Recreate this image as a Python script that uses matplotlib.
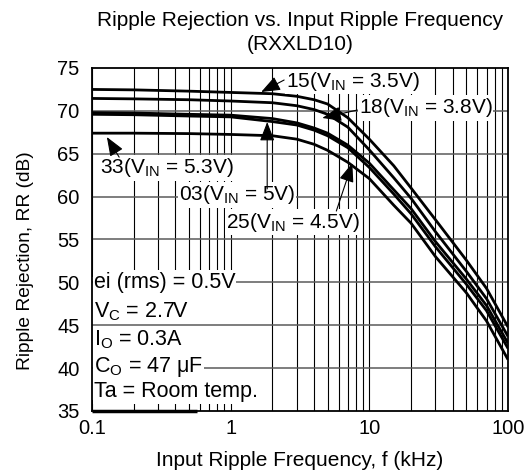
import matplotlib
matplotlib.use("Agg")
import matplotlib.pyplot as plt
from matplotlib.patches import Rectangle

plt.rcParams['font.family'] = ['Liberation Sans', 'DejaVu Sans']
plt.rcParams['mathtext.fontset'] = 'custom'
plt.rcParams['mathtext.rm'] = 'Liberation Sans'
plt.rcParams['mathtext.it'] = 'Liberation Sans:italic'
plt.rcParams['mathtext.bf'] = 'Liberation Sans:bold'

# ---- data ----
freq_khz = [0.1, 0.2, 0.5, 1, 2, 3, 4, 5, 7, 10, 15, 20, 30, 50, 70, 100]
rr_15 = [72.5, 72.45, 72.3, 72.15, 72.0, 71.7, 71.3, 70.8, 69.2, 66.7, 63.6, 61.0, 57.3, 52.6, 49.3, 44.8]
rr_18 = [71.45, 71.4, 71.3, 71.15, 70.95, 70.6, 70.15, 69.6, 68.1, 65.45, 62.2, 59.8, 55.9, 51.3, 48.1, 43.7]
rr_25 = [69.8, 69.75, 69.6, 69.5, 69.1, 68.6, 68.0, 67.4, 66.0, 63.9, 60.8, 58.6, 54.75, 50.4, 47.3, 42.9]
rr_03 = [69.6, 69.55, 69.4, 69.3, 68.75, 68.35, 67.75, 67.1, 65.7, 63.4, 60.3, 58.0, 54.15, 49.8, 46.7, 42.3]
rr_33 = [67.4, 67.4, 67.35, 67.25, 67.1, 66.7, 66.1, 65.4, 64.0, 62.1, 59.0, 56.9, 53.0, 48.8, 45.5, 41.0]

series = [rr_15, rr_18, rr_25, rr_03, rr_33]

x_ticks = [0.1, 1, 10, 100]
x_ticklabels = ['0.1', '1', '10', '100']
y_ticks = [35, 40, 45, 50, 55, 60, 65, 70, 75]

labels = [r'15(V$_{\mathrm{IN}}$ = 3.5V)', r'18(V$_{\mathrm{IN}}$ = 3.8V)',
          r'25(V$_{\mathrm{IN}}$ = 4.5V)', r'03(V$_{\mathrm{IN}}$ = 5V)',
          r'33(V$_{\mathrm{IN}}$ = 5.3V)']
# (text x, text y, arrow start x, y, arrow tip x, y) in data units
label_pos = [
    (7.66, 73.48, 2.43, 73.6, 1.66, 72.2),
    (25.4, 70.34, 8.19, 70.1, 4.58, 69.17),
    (2.83, 57.04, 5.78, 58.32, 7.54, 63.92),
    (1.114, 60.19, 1.834, 60.9, 1.834, 68.7),
    (0.348, 63.34, 0.157, 64.6, 0.128, 66.95),
]

cond_lines = ['ei (rms) = 0.5V', r'V$_{\mathrm{C}}$ = 2.7V', r'I$_{\mathrm{O}}$ = 0.3A',
              r'C$_{\mathrm{O}}$ = 47 $\mathrm{\mu}$F', 'Ta = Room temp.']
cond_y = [50.04, 46.55, 43.28, 40.13, 37.22]

fig = plt.figure(figsize=(5.31, 4.70), dpi=100)
ax = fig.add_axes([92/531, 1-411/470, 416/531, 343/470])
ax.set_xscale('log')
ax.set_xlim(0.1, 100)
ax.set_ylim(35, 75)

ax.set_xticks(x_ticks)
ax.set_xticklabels(x_ticklabels)
ax.set_yticks(y_ticks)
ax.grid(True, which='both', axis='x', color='black', lw=0.8, zorder=1)
ax.set_axisbelow(True)

# white panel behind the condition text (hides vertical grid)
ax.add_patch(Rectangle((0.1, 36.3), 1.28-0.1, 50.6-36.3, facecolor='white',
                       edgecolor='none', zorder=1.5))
# horizontal gridlines over it
ax.hlines(y_ticks[1:-1], 0.1, 100, colors='#5a5a5a', lw=1.1, zorder=1.6)

for s in series:
    ax.plot(freq_khz, s, color='black', lw=2.0, zorder=3, solid_capstyle='butt',
            solid_joinstyle='round')

for lab, (tx, ty, ax0, ay0, ax1, ay1) in zip(labels, label_pos):
    ax.text(tx, ty, lab, ha='center', va='center', fontsize=15, zorder=5,
            bbox=dict(facecolor='white', edgecolor='none', pad=0.8))
    ax.annotate('', xy=(ax1, ay1), xytext=(ax0, ay0), zorder=6,
                arrowprops=dict(arrowstyle='-|>,head_length=0.9,head_width=0.35',
                                mutation_scale=13, color='black', lw=0.8,
                                shrinkA=0, shrinkB=0))

for t, y in zip(cond_lines, cond_y):
    ax.text(0.103, y, t, ha='left', va='center', fontsize=15.5, zorder=5,
            bbox=dict(facecolor='white', edgecolor='none', pad=0.8))

ax.plot([0.1, 0.57], [35, 35], color='black', lw=2.5, zorder=7, clip_on=False,
        solid_capstyle='butt')

for sp in ax.spines.values():
    sp.set_linewidth(1.3)
    sp.set_zorder(8)

ax.tick_params(axis='both', which='both', length=0, labelsize=14.5)
ax.tick_params(axis='y', pad=9)
ax.tick_params(axis='x', pad=6)

ax.set_xlabel('Input Ripple Frequency, f (kHz)', fontsize=15, labelpad=9)
ax.set_ylabel('Ripple Rejection, RR (dB)', fontsize=13.8)
ax.yaxis.set_label_coords(-0.14, 0.439)

fig.text(300/531, 1-20/470, 'Ripple Rejection vs. Input Ripple Frequency',
         ha='center', va='center', fontsize=15)
fig.text(300/531, 1-45/470, '(RXXLD10)', ha='center', va='center', fontsize=15)

fig.savefig('out.png', dpi=100)
